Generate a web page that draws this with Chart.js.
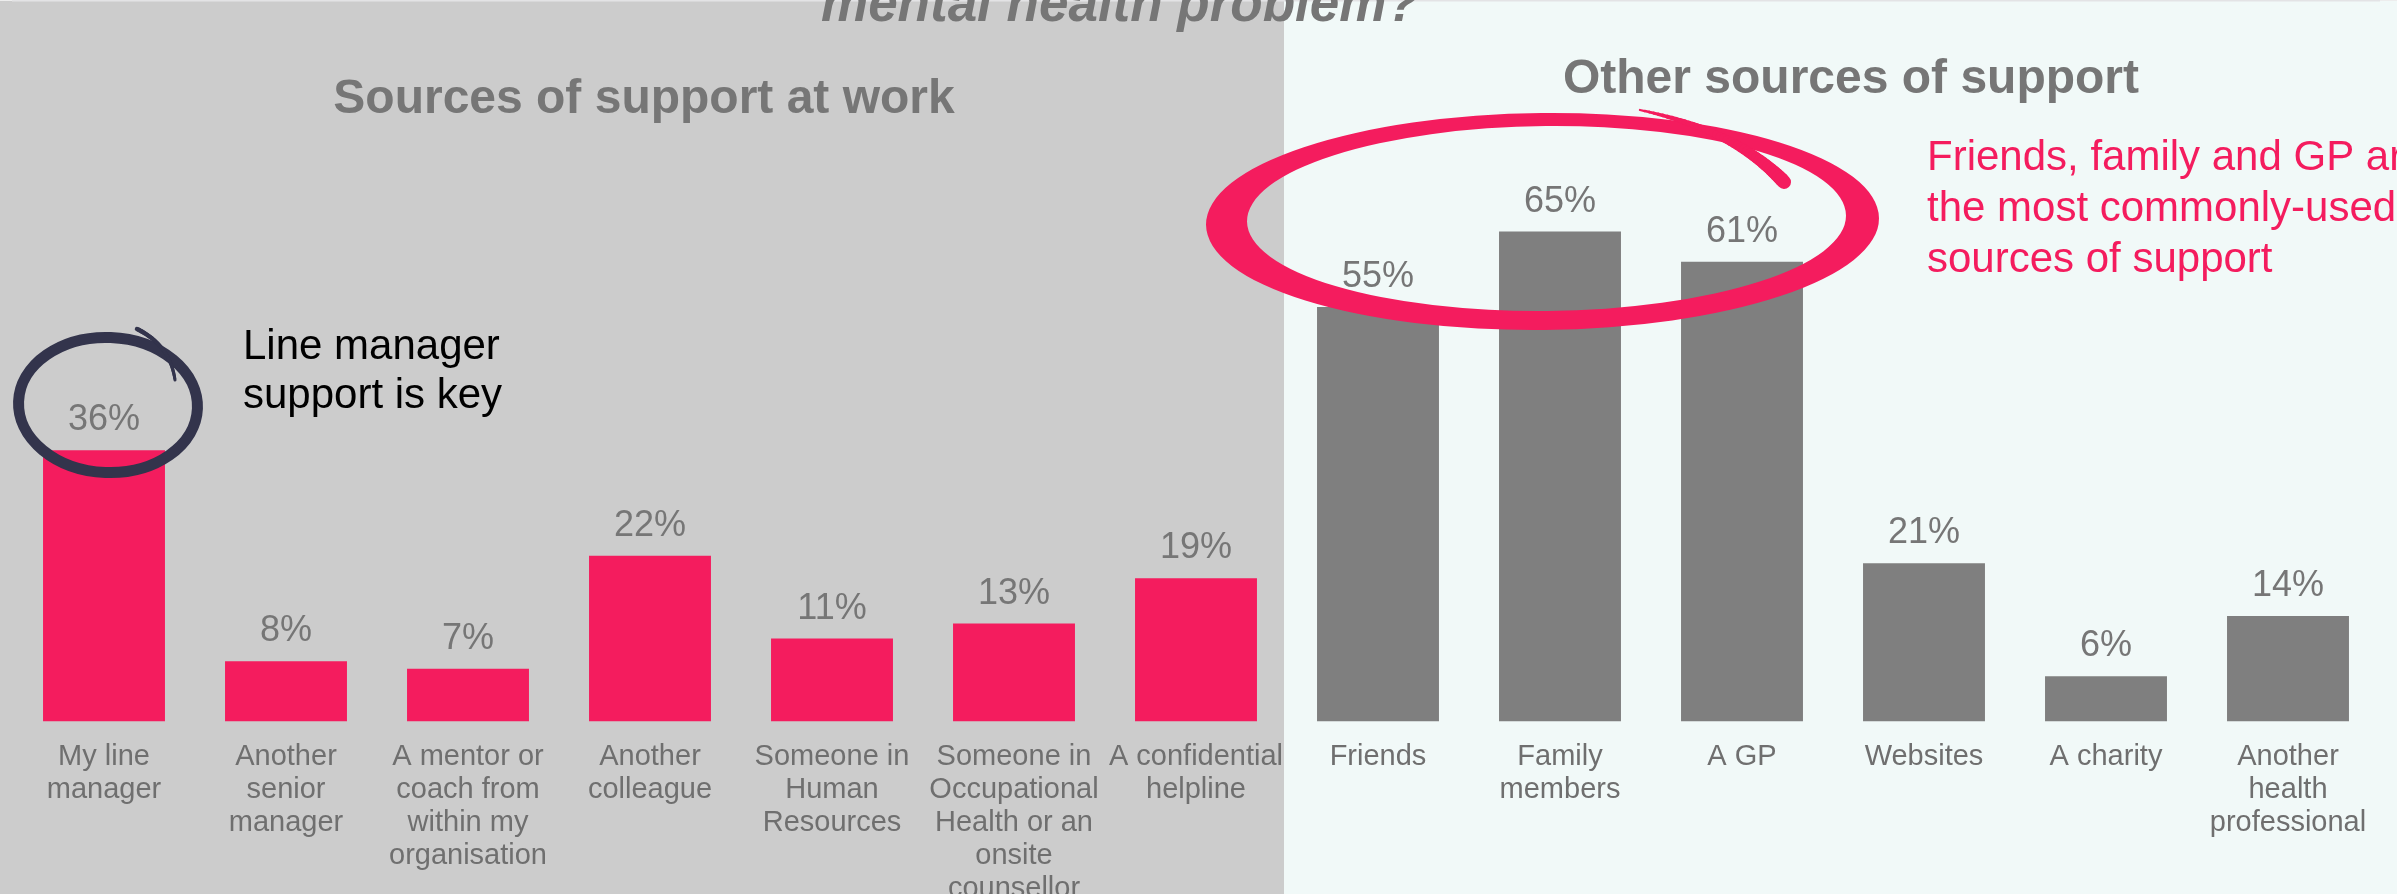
<!DOCTYPE html>
<html>
<head>
<meta charset="utf-8">
<script src="https://cdn.jsdelivr.net/npm/chart.js@4.4.1/dist/chart.umd.min.js"></script>
<style>
  html, body { margin: 0; padding: 0; overflow: hidden; background: #f1f9f8; }
  canvas { display: block; }
</style>
</head>
<body>
<canvas id="supportChart" width="2397" height="894"></canvas>
<script>
// Sources of support at work
var workLabels = [
  ['My line', 'manager'],
  ['Another', 'senior', 'manager'],
  ['A mentor or', 'coach from', 'within my', 'organisation'],
  ['Another', 'colleague'],
  ['Someone in', 'Human', 'Resources'],
  ['Someone in', 'Occupational', 'Health or an', 'onsite', 'counsellor'],
  ['A confidential', 'helpline']
];
var workValues = [36, 8, 7, 22, 11, 13, 19];

// Other sources of support
var otherLabels = [
  ['Friends'],
  ['Family', 'members'],
  ['A GP'],
  ['Websites'],
  ['A charity'],
  ['Another', 'health', 'professional']
];
var otherValues = [55, 65, 61, 21, 6, 14];

var FONT = '"Liberation Sans", Arial, Helvetica, sans-serif';
var PINK = '#f41c5e';
var GREY_BAR = '#7f7f7f';
var NAVY = '#33344c';

var labels = workLabels.concat(otherLabels);
var values = workValues.concat(otherValues);
var colors = workValues.map(function() { return PINK; })
  .concat(otherValues.map(function() { return GREY_BAR; }));

// draws a curve as short segments so the stroke can taper
function taperCurve(ctx, p0, c, p2, w0, w1, color) {
  var steps = 40;
  ctx.save();
  ctx.strokeStyle = color;
  ctx.lineCap = 'round';
  var px = p0[0], py = p0[1];
  for (var i = 1; i <= steps; i++) {
    var t = i / steps, u = 1 - t;
    var x = u * u * p0[0] + 2 * u * t * c[0] + t * t * p2[0];
    var y = u * u * p0[1] + 2 * u * t * c[1] + t * t * p2[1];
    ctx.lineWidth = w0 + (w1 - w0) * t;
    ctx.beginPath();
    ctx.moveTo(px, py);
    ctx.lineTo(x, y);
    ctx.stroke();
    px = x; py = y;
  }
  ctx.restore();
}

var panels = {
  id: 'panels',
  beforeDraw: function(chart) {
    var ctx = chart.ctx;
    ctx.save();
    ctx.fillStyle = '#cccccc';
    ctx.fillRect(0, 0, 1284, chart.height);
    ctx.fillStyle = '#f1f9f8';
    ctx.fillRect(1284, 0, chart.width - 1284, chart.height);
    ctx.fillStyle = '#ededed';
    ctx.fillRect(0, 0, chart.width, 1);
    ctx.restore();
  }
};

var valueLabels = {
  id: 'valueLabels',
  afterDatasetsDraw: function(chart) {
    var ctx = chart.ctx;
    var meta = chart.getDatasetMeta(0);
    ctx.save();
    ctx.font = '36px ' + FONT;
    ctx.fillStyle = '#767676';
    ctx.textAlign = 'center';
    ctx.textBaseline = 'alphabetic';
    meta.data.forEach(function(bar, i) {
      ctx.fillText(values[i] + '%', bar.x, bar.y - 20);
    });
    ctx.restore();
  }
};

var annotations = {
  id: 'annotations',
  afterDraw: function(chart) {
    var ctx = chart.ctx;
    ctx.save();

    // headings
    ctx.fillStyle = '#767676';
    ctx.textBaseline = 'alphabetic';
    ctx.font = 'italic bold 53px ' + FONT;
    ctx.textAlign = 'left';
    ctx.fillText('mental health problem?', 821, 21);
    ctx.font = 'bold 48px ' + FONT;
    ctx.textAlign = 'center';
    ctx.fillText('Sources of support at work', 644, 113);
    ctx.fillText('Other sources of support', 1851, 93);

    // ring around the line manager bar
    ctx.strokeStyle = NAVY;
    ctx.lineWidth = 11;
    ctx.beginPath();
    ctx.ellipse(108, 405, 89.5, 67.5, 0.04, 0, Math.PI * 2);
    ctx.stroke();
    taperCurve(ctx, [137, 329], [170, 345], [175, 380], 4.5, 3, NAVY);

    ctx.fillStyle = '#000000';
    ctx.font = '42px ' + FONT;
    ctx.textAlign = 'left';
    ctx.fillText('Line manager', 243, 359);
    ctx.fillText('support is key', 243, 408);

    // ring around friends, family and GP
    ctx.fillStyle = PINK;
    ctx.beginPath();
    ctx.ellipse(1542.5, 221.5, 336.5, 108.5, -0.01, 0, Math.PI * 2);
    ctx.moveTo(1546.5 + 299.5, 218.5);
    ctx.ellipse(1546.5, 218.5, 299.5, 92.5, -0.01, 0, Math.PI * 2);
    ctx.fill('evenodd');
    taperCurve(ctx, [1640, 110], [1735, 130], [1784, 182], 2, 14, PINK);

    ctx.font = '42px ' + FONT;
    ctx.textAlign = 'left';
    ctx.fillText('Friends, family and GP are', 1927, 170);
    ctx.fillText('the most commonly-used', 1927, 221);
    ctx.fillText('sources of support', 1927, 272);

    ctx.restore();
  }
};

var ctx = document.getElementById('supportChart').getContext('2d');
var supportChart = new Chart(ctx, {
  type: 'bar',
  data: {
    labels: labels,
    datasets: [{
      data: values,
      backgroundColor: colors,
      borderWidth: 0,
      categoryPercentage: 1,
      barPercentage: 0.67
    }]
  },
  options: {
    responsive: false,
    animation: false,
    devicePixelRatio: 1,
    layout: {
      padding: { left: 13, right: 18, top: 118.5, bottom: 0 }
    },
    plugins: {
      legend: { display: false },
      tooltip: { enabled: false }
    },
    scales: {
      x: {
        grid: { display: false, drawTicks: false, z: 1 },
        border: { display: true, color: '#e3e3e5', width: 3 },
        ticks: {
          color: '#6f6f6f',
          font: { family: FONT, size: 29, lineHeight: 1.14 },
          padding: 19,
          maxRotation: 0,
          minRotation: 0,
          autoSkip: false
        },
        afterFit: function(scale) { scale.height = 894 - 721.5; }
      },
      y: {
        display: false,
        min: 0,
        max: 80
      }
    }
  },
  plugins: [panels, valueLabels, annotations]
});
</script>
</body>
</html>
